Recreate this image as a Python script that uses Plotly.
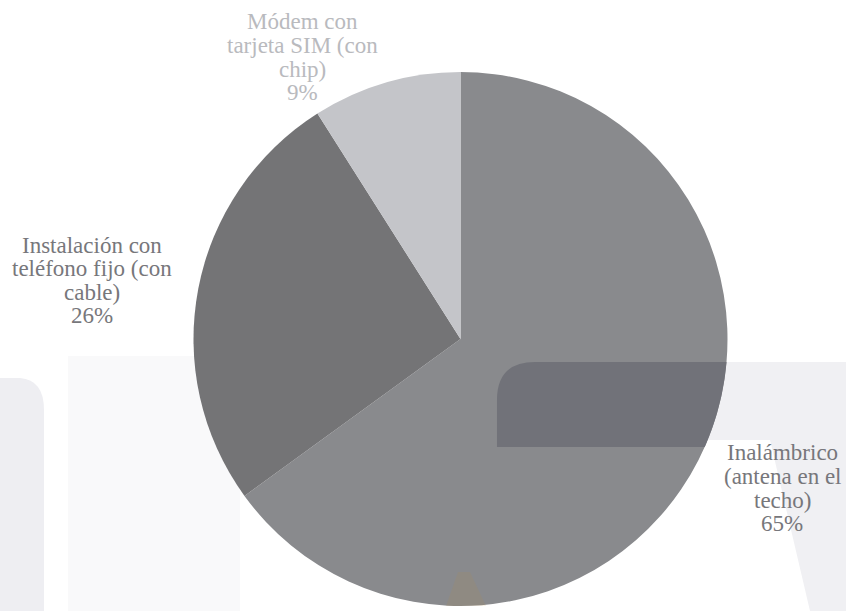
import math
import plotly.graph_objects as go

# Internet connection type shares
label_lines = [
    ["Inalámbrico", "(antena en el", "techo)"],
    ["Instalación con", "teléfono fijo (con", "cable)"],
    ["Módem con", "tarjeta SIM (con", "chip)"],
]
labels = [" ".join(lines) for lines in label_lines]
values = [65, 26, 9]
slice_colors = ["#898a8d", "#747476", "#c4c5c9"]
label_colors = ["#77777b", "#77777b", "#b9babe"]

W, H = 846, 611
FONT = "Times New Roman"

# Pie placement in pixels
CX, CY, R = 460.5, 339.0, 267.0

fig = go.Figure(
    go.Pie(
        labels=labels,
        values=values,
        sort=False,
        direction="clockwise",
        rotation=0,
        textinfo="none",
        hoverinfo="label+percent",
        marker=dict(colors=slice_colors, line=dict(width=0)),
        showlegend=False,
        domain=dict(x=[(CX - R) / W, (CX + R) / W], y=[(H - CY - R) / H, (H - CY + R) / H]),
    )
)


def px(x, y):
    return f"{x / W:.5f},{(H - y) / H:.5f}"


def arc_x(y):
    return CX + math.sqrt(R * R - (y - CY) ** 2)


# Faint background emblem
shapes = []
shapes.append(dict(type="path", xref="paper", yref="paper", layer="below",
                   path=f"M {px(0, 611)} L {px(0, 378)} L {px(20, 378)} Q {px(44, 380)} {px(44, 410)} L {px(44, 611)} Z",
                   fillcolor="#eeeef2", line=dict(width=0)))
shapes.append(dict(type="rect", xref="paper", yref="paper", layer="below",
                   x0=68 / W, x1=240 / W, y0=0, y1=(H - 356) / H,
                   fillcolor="#f9f9fa", line=dict(width=0)))
shapes.append(dict(type="path", xref="paper", yref="paper", layer="below",
                   path=f"M {px(700, 362)} L {px(846, 362)} L {px(846, 611)} L {px(810, 611)} L {px(770, 440)} L {px(700, 440)} Z",
                   fillcolor="#f0f0f3", line=dict(width=0)))

# darker emblem panel seen through the large slice
top, bot, left, rad = 362, 447, 497, 38
steps = 16
arc_pts = " ".join(f"L {px(arc_x(top + (bot - top) * k / steps), top + (bot - top) * k / steps)}" for k in range(steps + 1))
shapes.append(dict(type="path", xref="paper", yref="paper", layer="above",
                   path=f"M {px(left, bot)} L {px(left, top + rad)} Q {px(left, top)} {px(left + rad, top)} {arc_pts} Z",
                   fillcolor="#717279", line=dict(width=0)))
shapes.append(dict(type="path", xref="paper", yref="paper", layer="above",
                   path=f"M {px(446, 606)} L {px(458, 572)} L {px(470, 572)} L {px(486, 606)} Z",
                   fillcolor="rgba(190,140,60,0.12)", line=dict(width=0)))

# Outside label blocks: centre x and first-line y (pixels), one annotation per line
label_anchor = [(782, 453), (92, 245), (302, 22)]
line_step = 23.5
total = sum(values)
annotations = []
for lines, val, col, (cx, y0) in zip(label_lines, values, label_colors, label_anchor):
    pct = f"{round(100 * val / total)}%"
    for i, txt in enumerate(lines + [pct]):
        y = y0 + i * line_step
        annotations.append(
            dict(
                x=cx / W, y=(H - y) / H, xref="paper", yref="paper",
                text=txt, showarrow=False, xanchor="center", yanchor="middle",
                font=dict(family=FONT, size=23, color=col),
            )
        )

fig.update_layout(
    width=W, height=H,
    margin=dict(l=0, r=0, t=0, b=0),
    paper_bgcolor="#ffffff",
    plot_bgcolor="#ffffff",
    annotations=annotations,
    shapes=shapes,
)

fig.write_html("out.html")
